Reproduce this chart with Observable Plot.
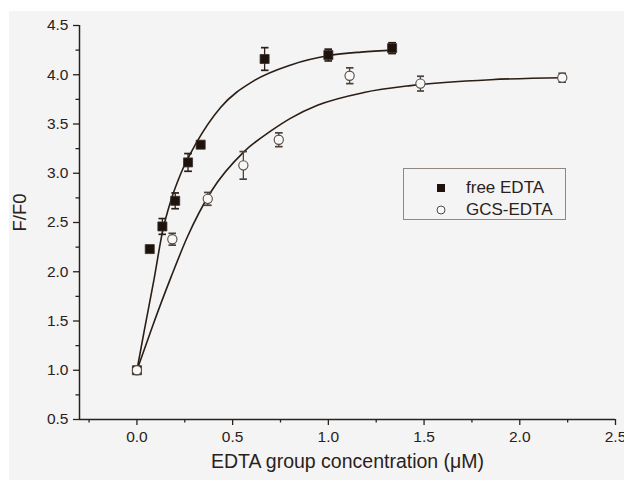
<!DOCTYPE html>
<html><head><meta charset="utf-8">
<script src="https://cdn.jsdelivr.net/npm/d3@7"></script>
<script src="https://cdn.jsdelivr.net/npm/@observablehq/plot@0.6"></script>
<style>
body{margin:0;background:#fff;font-family:"Liberation Sans",Arial,sans-serif;}
#wrap{position:relative;width:624px;height:480px;overflow:hidden;}
#bg{position:absolute;left:9px;top:11px;width:615px;height:469px;background:#f4f4f4;}
#chart{position:absolute;left:0;top:0;}
#legend{position:absolute;left:403px;top:168px;width:161px;height:50px;border:1px solid #8e8782;color:#2b211b;font-size:17px;}
#legend .row{position:absolute;left:0;height:20px;line-height:20px;white-space:nowrap;}
#legend svg{position:absolute;left:31px;top:4px;}
#legend span{position:absolute;left:62px;top:0;}
</style></head>
<body>
<div id="wrap"><div id="bg"></div><div id="chart"></div>
<div id="legend">
  <div class="row" style="top:9px"><svg width="12" height="12"><rect x="2" y="2" width="8" height="8" fill="#1e130c"/></svg><span>free EDTA</span></div>
  <div class="row" style="top:31px"><svg width="12" height="12"><circle cx="6" cy="6" r="4" fill="#f8f8f8" stroke="#55493f" stroke-width="1"/></svg><span>GCS-EDTA</span></div>
</div>
</div>
<script>
// measured data
const freeX   = [0, 0.067, 0.133, 0.2, 0.267, 0.333, 0.667, 1.0, 1.333];
const freeY   = [1.0, 2.23, 2.46, 2.72, 3.11, 3.29, 4.16, 4.20, 4.27];
const freeErr = [0, 0, 0.08, 0.08, 0.09, 0, 0.115, 0.06, 0.055];
const gcsX    = [0, 0.185, 0.37, 0.556, 0.741, 1.111, 1.481, 2.222];
const gcsY    = [1.0, 2.33, 2.74, 3.08, 3.34, 3.99, 3.91, 3.97];
const gcsErr  = [0, 0.06, 0.065, 0.14, 0.07, 0.08, 0.075, 0.045];
// fitted curves
const freeFitX = [0, 0.04, 0.09, 0.134, 0.177, 0.23, 0.308, 0.438, 0.612, 0.804, 1.004, 1.17, 1.343];
const freeFitY = [1.0, 1.42, 1.93, 2.41, 2.72, 3.0, 3.30, 3.67, 3.94, 4.10, 4.195, 4.23, 4.25];
const gcsFitX  = [0, 0.082, 0.177, 0.265, 0.386, 0.56, 0.70, 0.804, 0.943, 1.186, 1.43, 1.848, 2.222];
const gcsFitY  = [1.0, 1.45, 1.94, 2.36, 2.81, 3.22, 3.43, 3.56, 3.69, 3.82, 3.89, 3.95, 3.97];
// axes
const xDomain = [-0.3, 2.5];
const yDomain = [0.5, 4.5];
const xMajor = [0, 0.5, 1.0, 1.5, 2.0, 2.5];
const xMinor = [-0.25, 0.25, 0.75, 1.25, 1.75, 2.25];
const yMajor = [0.5, 1.0, 1.5, 2.0, 2.5, 3.0, 3.5, 4.0, 4.5];
const yMinor = [0.75, 1.25, 1.75, 2.25, 2.75, 3.25, 3.75, 4.25];
const xTitle = "EDTA group concentration (μM)";
const yTitle = "F/F0";

const free = freeX.map((x, i) => ({x, y: freeY[i], e: freeErr[i]}));
const gcs = gcsX.map((x, i) => ({x, y: gcsY[i], e: gcsErr[i]}));
const freeFit = freeFitX.map((x, i) => ({x, y: freeFitY[i]}));
const gcsFit = gcsFitX.map((x, i) => ({x, y: gcsFitY[i]}));

const ink = "#2b211b";
const fmt = d3.format(".1f");

const chart = Plot.plot({
  width: 624, height: 480,
  marginLeft: 79, marginRight: 9, marginTop: 25, marginBottom: 61,
  style: {background: "transparent", color: ink, fontFamily: "'Liberation Sans', Arial, sans-serif"},
  x: {domain: xDomain, axis: null},
  y: {domain: yDomain, axis: null},
  marks: [
    Plot.axisX(xMajor, {tickSize: 6, tickPadding: 5, tickFormat: fmt, fontSize: 15.5, label: null, stroke: ink, strokeWidth: 1.3}),
    Plot.axisX(xMinor, {tickSize: 3.5, tickFormat: () => "", label: null, stroke: ink, strokeWidth: 1.3}),
    Plot.axisY(yMajor, {tickSize: 6, tickPadding: 5, tickFormat: fmt, fontSize: 15.5, label: null, stroke: ink, strokeWidth: 1.3}),
    Plot.axisY(yMinor, {tickSize: 3.5, tickFormat: () => "", label: null, stroke: ink, strokeWidth: 1.3}),
    Plot.ruleY([yDomain[0]], {stroke: ink, strokeWidth: 1.5}),
    Plot.ruleX([xDomain[0]], {stroke: ink, strokeWidth: 1.5}),
    Plot.text([xTitle], {frameAnchor: "bottom", dy: 48, fontSize: 19.5, fill: ink}),
    Plot.text([yTitle], {frameAnchor: "left", dx: -59, dy: 9, rotate: -90, fontSize: 18.5, fill: ink}),
    Plot.line(freeFit, {x: "x", y: "y", curve: "monotone-x", stroke: "#2a1e16", strokeWidth: 1.6}),
    Plot.line(gcsFit, {x: "x", y: "y", curve: "monotone-x", stroke: "#2a1e16", strokeWidth: 1.6}),
    Plot.link(free.filter(d => d.e > 0), {x1: "x", x2: "x", y1: d => d.y - d.e, y2: d => d.y + d.e, stroke: "#2a1e16", strokeWidth: 1.3, markerStart: "tick", markerEnd: "tick"}),
    Plot.link(gcs.filter(d => d.e > 0), {x1: "x", x2: "x", y1: d => d.y - d.e, y2: d => d.y + d.e, stroke: "#4d423b", strokeWidth: 1.3, markerStart: "tick", markerEnd: "tick"}),
    Plot.dot(free, {x: "x", y: "y", symbol: "square", r: 5.1, fill: "#1e130c", stroke: "#3a2f28", strokeWidth: 0.8}),
    Plot.dot(gcs, {x: "x", y: "y", symbol: "circle", r: 4.6, fill: "#f8f8f8", stroke: "#55493f", strokeWidth: 1.1})
  ]
});
document.getElementById("chart").appendChild(chart);
</script>
</body></html>
